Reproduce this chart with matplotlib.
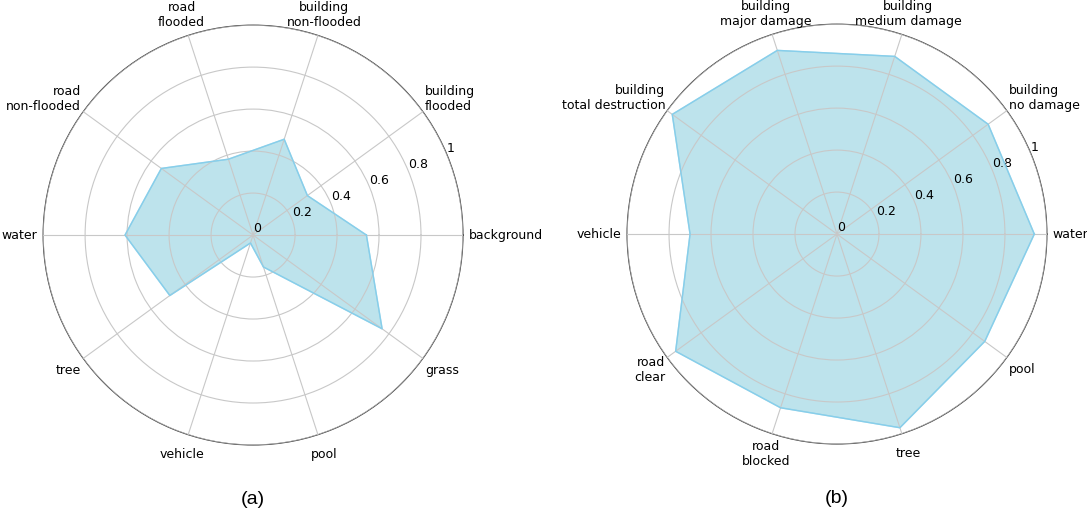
import matplotlib
matplotlib.use("Agg")
import matplotlib.pyplot as plt
import numpy as np

labels_a = ["background", "building\nflooded", "building\nnon-flooded", "road\nflooded",
            "road\nnon-flooded", "water", "tree", "vehicle", "pool", "grass"]
values_a = [0.54, 0.32, 0.48, 0.38, 0.54, 0.61, 0.49, 0.04, 0.16, 0.76]

labels_b = ["water", "building\nno damage", "building\nmedium damage", "building\nmajor damage",
            "building\ntotal destruction", "vehicle", "road\nclear", "road\nblocked", "tree", "pool"]
values_b = [0.94, 0.89, 0.89, 0.92, 0.97, 0.70, 0.95, 0.87, 0.97, 0.87]

r_ticks = [0, 0.2, 0.4, 0.6, 0.8, 1.0]
r_ticklabels = ["0", "0.2", "0.4", "0.6", "0.8", "1"]

FILL = (0.49, 0.79, 0.86)
EDGE = "skyblue"


def radar(ax, labels, values, caption):
    n = len(labels)
    angles = np.linspace(0, 2 * np.pi, n, endpoint=False)
    a = np.concatenate([angles, angles[:1]])
    v = np.concatenate([values, values[:1]])
    ax.fill(a, v, color=FILL, alpha=0.5, zorder=2)
    ax.plot(a, v, color=EDGE, linewidth=1.0, zorder=3)
    ax.set_ylim(0, 1)
    ax.set_xticks(angles)
    ax.set_xticklabels([])
    # category labels: centred just outside the circle, side ones anchored by inner edge
    for ang, lab in zip(angles, labels):
        c = np.cos(ang)
        if c > 0.5:
            ha, dx = "left", -10.8
        elif c < -0.5:
            ha, dx = "right", 10.8
        else:
            ha, dx = "center", 0
        ax.annotate(lab, xy=(ang, 1.1), xytext=(dx, 0), textcoords="offset points",
                    ha=ha, va="center", fontsize=9, annotation_clip=False)
    ax.set_yticks(r_ticks)
    ax.set_yticklabels(r_ticklabels, fontsize=9)
    ax.set_rlabel_position(22.5)
    ax.grid(True, color="#c8c8c8", linewidth=0.8)
    ax.spines["polar"].set_color("#3a3a3a")
    ax.spines["polar"].set_linewidth(0.8)
    ax.set_axisbelow(False)
    ax.text(0.5, -0.13, caption, transform=ax.transAxes, ha="center", va="center",
            fontsize=14, family="Liberation Sans")


def main() -> None:
    fig = plt.figure(figsize=(10.87, 5.19), dpi=100)
    ax1 = fig.add_axes([0.0396, 0.1426, 0.3864, 0.809], projection="polar")
    ax2 = fig.add_axes([0.5768, 0.1445, 0.3864, 0.809], projection="polar")
    radar(ax1, labels_a, values_a, "(a)")
    radar(ax2, labels_b, values_b, "(b)")
    fig.savefig("out.png", dpi=100)


if __name__ == "__main__":
    main()
